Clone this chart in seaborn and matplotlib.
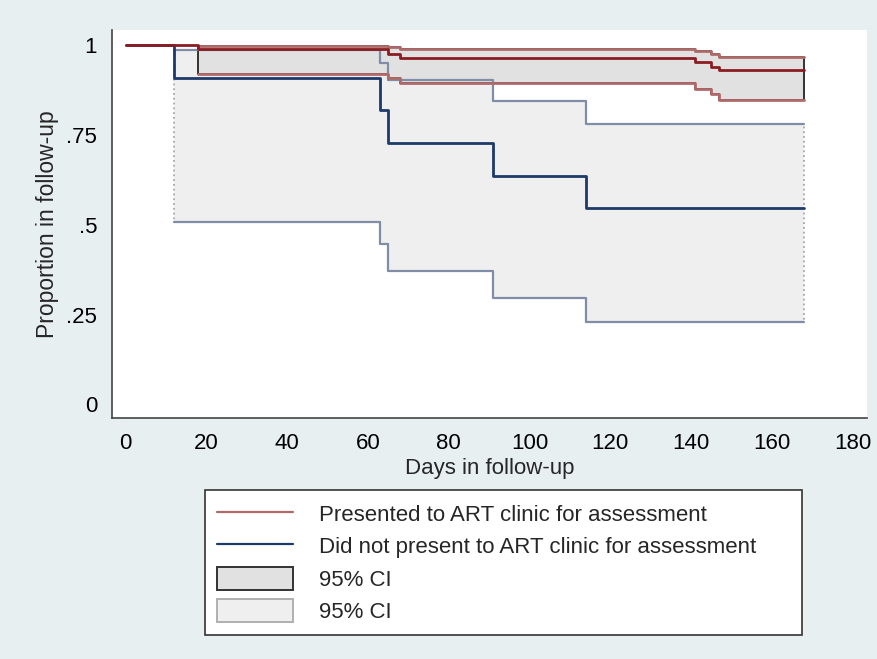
import numpy as np
import pandas as pd
import matplotlib
matplotlib.use("Agg")
import matplotlib.pyplot as plt
from matplotlib.lines import Line2D
from matplotlib.patches import Patch
import seaborn as sns

# ---- data ----
red_t = [0, 18, 65, 68, 141, 145, 147, 168]
red_s = [1.0, 0.988, 0.976, 0.964, 0.952, 0.940, 0.929, 0.929]
red_ci_t = [18, 65, 68, 141, 145, 147, 168]
red_lo = [0.918, 0.908, 0.893, 0.878, 0.863, 0.848, 0.848]
red_hi = [0.998, 0.994, 0.988, 0.982, 0.975, 0.967, 0.967]

blue_t = [0, 12, 63, 65, 91, 114, 168]
blue_s = [1.0, 0.909, 0.818, 0.727, 0.636, 0.545, 0.545]
blue_ci_t = [12, 63, 65, 91, 114, 168]
blue_lo = [0.508, 0.447, 0.371, 0.297, 0.229, 0.229]
blue_hi = [0.987, 0.951, 0.903, 0.845, 0.780, 0.780]

xticks = [0, 20, 40, 60, 80, 100, 120, 140, 160, 180]
yticks = [0, 0.25, 0.5, 0.75, 1.0]
ytick_labels = ["0", ".25", ".5", ".75", "1"]

label_red = "Presented to ART clinic for assessment"
label_blue = "Did not present to ART clinic for assessment"
label_ci = "95% CI"

# ---- style ----
sns.set_style("white")
plt.rcParams["font.family"] = ["Liberation Sans", "DejaVu Sans"]

BG = "#e8eff1"
RED = "#8a1c22"
RED_CI = "#b06a6a"
BLUE = "#1d3a68"
BLUE_CI = "#7f8ea6"
FILL_RED = "#e1e1e1"
FILL_BLUE = "#efefef"
AXC = "#444444"
FS = 16

fig = plt.figure(figsize=(8.78, 6.59), dpi=100, facecolor=BG)
ax = fig.add_axes([0.1272, 0.3657, 0.8603, 0.5888])
ax.set_facecolor("white")

# CI areas
ax.fill_between(blue_ci_t, blue_lo, blue_hi, step="post", facecolor=FILL_BLUE,
                edgecolor="#a8a8a8", linestyle=":", linewidth=1.3, zorder=1)
ax.fill_between(red_ci_t, red_lo, red_hi, step="post", facecolor=FILL_RED,
                edgecolor="#333333", linewidth=1.4, zorder=2)

# CI boundaries
ci_df = pd.DataFrame({
    "t": blue_ci_t * 2 + red_ci_t * 2,
    "v": blue_lo + blue_hi + red_lo + red_hi,
    "g": (["blo"] * len(blue_ci_t) + ["bhi"] * len(blue_ci_t)
          + ["rlo"] * len(red_ci_t) + ["rhi"] * len(red_ci_t)),
})
for g, col, lw in [("blo", BLUE_CI, 1.6), ("bhi", BLUE_CI, 1.6),
                   ("rlo", RED_CI, 2.0), ("rhi", RED_CI, 2.0)]:
    sub = ci_df[ci_df["g"] == g]
    sns.lineplot(data=sub, x="t", y="v", ax=ax, color=col, linewidth=lw,
                 drawstyle="steps-post", estimator=None, sort=False, zorder=3)

# Survival curves
blue_df = pd.DataFrame({"t": blue_t, "s": blue_s})
red_df = pd.DataFrame({"t": red_t, "s": red_s})
sns.lineplot(data=blue_df, x="t", y="s", ax=ax, color=BLUE, linewidth=2.0,
             drawstyle="steps-post", estimator=None, sort=False, zorder=4)
sns.lineplot(data=red_df, x="t", y="s", ax=ax, color=RED, linewidth=2.0,
             drawstyle="steps-post", estimator=None, sort=False, zorder=5)

# Axes
ax.set_xlim(-3.47, 183.6)
ax.set_ylim(-0.038, 1.0417)
ax.set_xticks(xticks)
ax.set_xticklabels([str(v) for v in xticks])
ax.set_yticks(yticks)
ax.set_yticklabels(ytick_labels)
for s in ["top", "right"]:
    ax.spines[s].set_visible(False)
for s in ["left", "bottom"]:
    ax.spines[s].set_color(AXC)
    ax.spines[s].set_linewidth(1.2)
ax.tick_params(axis="both", which="major", direction="out", length=6.5,
               width=1.1, color=AXC, labelsize=FS, pad=4, labelcolor="black")
ax.set_xlabel("Days in follow-up", fontsize=FS, labelpad=3)
ax.set_ylabel("Proportion in follow-up", fontsize=FS + 0.5, labelpad=5)
ax.grid(False)

# Legend
handles = [
    Line2D([0], [0], color=RED_CI, linewidth=1.6),
    Line2D([0], [0], color=BLUE, linewidth=1.6),
    Patch(facecolor=FILL_RED, edgecolor="#333333", linewidth=1.4),
    Patch(facecolor=FILL_BLUE, edgecolor="#b0b0b0", linewidth=1.4),
]
labels = [label_red, label_blue, label_ci, label_ci]
x0, x1 = 205 / 878, 802 / 878
ytop = 1 - 490 / 659
leg = fig.legend(handles, labels, loc="upper left",
                 bbox_to_anchor=(x0, ytop - 0.2, x1 - x0, 0.2), mode="expand",
                 fontsize=FS, frameon=True, fancybox=False, framealpha=1,
                 handlelength=3.4, handleheight=1.2, handletextpad=1.2,
                 labelspacing=0.38, borderpad=0.55, borderaxespad=0)
leg.get_frame().set_edgecolor("#333333")
leg.get_frame().set_linewidth(1.2)
leg.get_frame().set_facecolor("white")

fig.savefig("out.png", dpi=100, facecolor=BG)
